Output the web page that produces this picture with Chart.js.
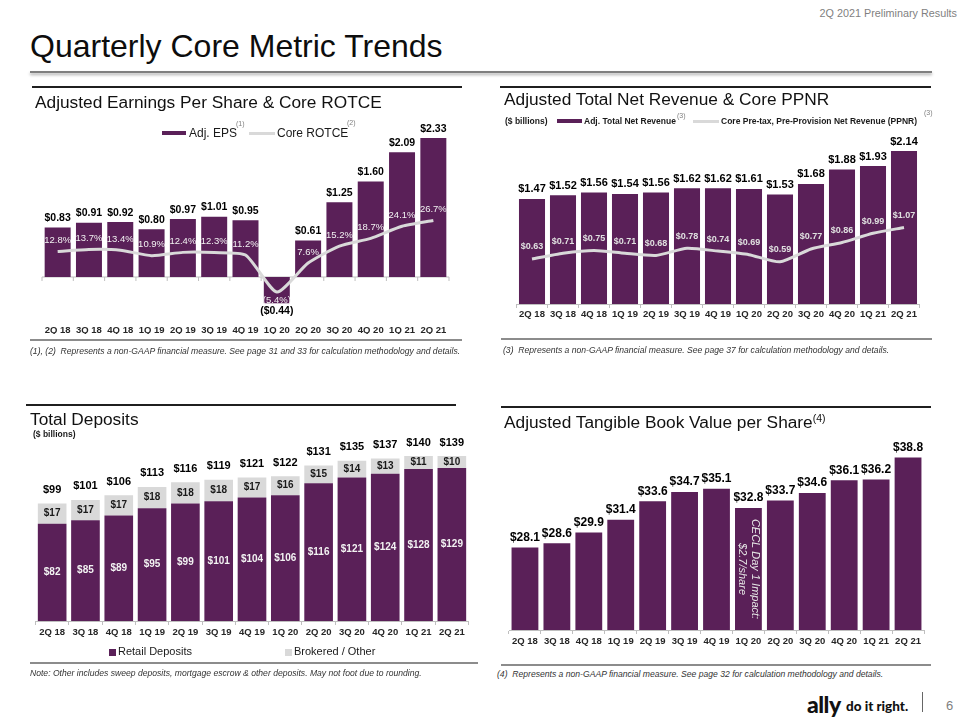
<!DOCTYPE html>
<html>
<head>
<meta charset="utf-8">
<title>Quarterly Core Metric Trends</title>
<script src="https://cdn.jsdelivr.net/npm/chart.js@4.4.1/dist/chart.umd.min.js"></script>
<style>
  body { margin: 0; background: #fff; font-family: "Liberation Sans", Arial, sans-serif; color: #111; }
  #page { position: relative; width: 960px; height: 720px; overflow: hidden; }
  .a { position: absolute; }
  .t { position: absolute; white-space: nowrap; line-height: 1; }
  .sub { font-size: 17.3px; color: #111; }
  .rule { position: absolute; height: 1.5px; background: #1f1f1f; }
  .frule { position: absolute; height: 2px; background: #8c8c8c; }
  .foot { font-size: 8.6px; font-style: italic; color: #333; }
  .sup { font-size: 7px; color: #7f7f7f; }
  .leg { font-size: 12px; color: #1a1a1a; }
  .legb { font-size: 8.5px; font-weight: bold; color: #1a1a1a; }
  .sw { position: absolute; }
</style>
</head>
<body>
<div id="page">
  <canvas id="epsChart" class="a" width="480" height="240" style="left:0;top:100px"></canvas>
  <canvas id="revChart" class="a" width="480" height="240" style="left:480px;top:100px"></canvas>
  <canvas id="depChart" class="a" width="480" height="230" style="left:0;top:420px"></canvas>
  <canvas id="tbvChart" class="a" width="480" height="240" style="left:480px;top:420px"></canvas>

  <div class="t" style="right:3px;top:8px;font-size:10.8px;color:#7f7f7f">2Q 2021 Preliminary Results</div>
  <div class="t" style="left:30px;top:30px;font-size:32px;color:#0d0d0d">Quarterly Core Metric Trends</div>
  <div class="a" style="left:30px;top:71px;width:902px;height:2px;background:#7f7f7f;box-shadow:0 2px 3px rgba(0,0,0,.35)"></div>

  <!-- top left -->
  <div class="rule" style="left:32px;top:86px;width:430px"></div>
  <div class="t sub" style="left:35px;top:93.5px">Adjusted Earnings Per Share &amp; Core ROTCE</div>
  <div class="sw" style="left:162px;top:131px;width:24px;height:4px;background:#5a2058"></div>
  <div class="t leg" style="left:189px;top:127px">Adj. EPS</div>
  <div class="t sup" style="left:236px;top:120px">(1)</div>
  <div class="sw" style="left:249px;top:131.5px;width:26px;height:3px;background:#d9d9d9"></div>
  <div class="t leg" style="left:277px;top:127px">Core ROTCE</div>
  <div class="t sup" style="left:347px;top:119px">(2)</div>
  <div class="frule" style="left:30px;top:339px;width:432px"></div>
  <div class="t foot" style="left:30px;top:346.5px">(1), (2)&nbsp; Represents a non-GAAP financial measure. See page 31 and 33 for calculation methodology and details.</div>

  <!-- top right -->
  <div class="rule" style="left:500px;top:86px;width:431px"></div>
  <div class="t sub" style="left:504px;top:90.5px">Adjusted Total Net Revenue &amp; Core PPNR</div>
  <div class="t legb" style="left:505px;top:116.5px">($ billions)</div>
  <div class="sw" style="left:557px;top:119px;width:25px;height:4px;background:#5a2058"></div>
  <div class="t legb" style="left:584px;top:116.5px">Adj. Total Net Revenue</div>
  <div class="t sup" style="left:677px;top:112px">(3)</div>
  <div class="sw" style="left:693px;top:119.5px;width:26px;height:3px;background:#d9d9d9"></div>
  <div class="t legb" style="left:721px;top:116.5px">Core Pre-tax, Pre-Provision Net Revenue (PPNR)</div>
  <div class="t sup" style="left:924px;top:109px">(3)</div>
  <div class="frule" style="left:501px;top:338px;width:431px"></div>
  <div class="t foot" style="left:503px;top:346px">(3)&nbsp; Represents a non-GAAP financial measure. See page 37 for calculation methodology and details.</div>

  <!-- bottom left -->
  <div class="rule" style="left:26px;top:404px;width:430px"></div>
  <div class="t sub" style="left:30px;top:410.5px">Total Deposits</div>
  <div class="t legb" style="left:33px;top:430px">($ billions)</div>
  <div class="sw" style="left:109px;top:648.5px;width:7px;height:7px;background:#5a2058"></div>
  <div class="t" style="left:118px;top:646px;font-size:11px;color:#1a1a1a">Retail Deposits</div>
  <div class="sw" style="left:285px;top:648.5px;width:7px;height:7px;background:#d9d9d9"></div>
  <div class="t" style="left:294px;top:646px;font-size:11px;color:#1a1a1a">Brokered / Other</div>
  <div class="frule" style="left:30px;top:662px;width:448px"></div>
  <div class="t foot" style="left:30px;top:669px">Note: Other includes sweep deposits, mortgage escrow &amp; other deposits. May not foot due to rounding.</div>

  <!-- bottom right -->
  <div class="rule" style="left:501px;top:406px;width:430px"></div>
  <div class="t sub" style="left:504px;top:412.5px">Adjusted Tangible Book Value per Share<span style="font-size:10.5px;vertical-align:6px">(4)</span></div>
  <div class="frule" style="left:501px;top:664px;width:430px"></div>
  <div class="t foot" style="left:497px;top:670px">(4)&nbsp; Represents a non-GAAP financial measure. See page 32 for calculation methodology and details.</div>

  <!-- footer -->
  <div class="t" style="left:807px;top:693px;font-family:Lato,'DejaVu Sans',sans-serif;font-weight:900;font-size:23px;letter-spacing:-0.5px;color:#111">ally</div>
  <div class="t" style="left:846px;top:700px;font-family:Lato,'DejaVu Sans',sans-serif;font-weight:900;font-size:13.5px;color:#111">do it right.</div>
  <div class="a" style="left:922px;top:692px;width:1px;height:20px;background:#666"></div>
  <div class="t" style="left:946px;top:699px;font-size:13px;color:#7f7f7f">6</div>
</div>

<script>
const quarters = ['2Q 18', '3Q 18', '4Q 18', '1Q 19', '2Q 19', '3Q 19', '4Q 19', '1Q 20', '2Q 20', '3Q 20', '4Q 20', '1Q 21', '2Q 21'];

// adjusted EPS ($) and core ROTCE (%)
const adjEps = [0.83, 0.91, 0.92, 0.80, 0.97, 1.01, 0.95, -0.44, 0.61, 1.25, 1.60, 2.09, 2.33];
const coreRotce = [12.8, 13.7, 13.4, 10.9, 12.4, 12.3, 11.2, -5.4, 7.6, 15.2, 18.7, 24.1, 26.7];

// $ billions
const adjRevenue = [1.47, 1.52, 1.56, 1.54, 1.56, 1.62, 1.62, 1.61, 1.53, 1.68, 1.88, 1.93, 2.14];
const corePpnr = [0.63, 0.71, 0.75, 0.71, 0.68, 0.78, 0.74, 0.69, 0.59, 0.77, 0.86, 0.99, 1.07];

// deposits, $ billions (totals may not foot)
const retailDeposits = [82, 85, 89, 95, 99, 101, 104, 106, 116, 121, 124, 128, 129];
const brokeredDeposits = [17, 17, 17, 18, 18, 18, 17, 16, 15, 14, 13, 11, 10];
const totalDeposits = [99, 101, 106, 113, 116, 119, 121, 122, 131, 135, 137, 140, 139];

// adjusted tangible book value per share ($)
const tangibleBook = [28.1, 28.6, 29.9, 31.4, 33.6, 34.7, 35.1, 32.8, 33.7, 34.6, 36.1, 36.2, 38.8];
const ceclNote = ['CECL Day 1 Impact:', '$2.7/share'];
const ceclIndex = 7;

const PURPLE = '#5a2058';
const LIGHT = '#d9d9d9';
const AXIS = '#bfbfbf';
const FONT = '"Liberation Sans", Arial, sans-serif';

Chart.defaults.font.family = FONT;
Chart.defaults.animation = false;
Chart.defaults.plugins.legend.display = false;
Chart.defaults.plugins.tooltip.enabled = false;

function xAxis(over) {
  return Object.assign({
    ticks: { color: '#262626', font: { size: 9.5, weight: 'bold' }, padding: 1, autoSkip: false, maxRotation: 0 },
    grid: { display: true, drawOnChartArea: false, drawTicks: true, tickLength: 4, color: AXIS },
    border: { display: true, color: AXIS },
    afterFit: s => { s.height = 22; }
  }, over || {});
}

function label(ctx, s, x, y, size, color, base, weight) {
  ctx.save();
  ctx.font = (weight || 'bold') + ' ' + size + 'px ' + FONT;
  ctx.fillStyle = color;
  ctx.textAlign = 'center';
  ctx.textBaseline = base || 'middle';
  ctx.fillText(s, x, y);
  ctx.restore();
}

function money(v, d) {
  return v < 0 ? '($' + (-v).toFixed(d) + ')' : '$' + v.toFixed(d);
}

// ---- Adjusted EPS & Core ROTCE
new Chart(document.getElementById('epsChart'), {
  type: 'bar',
  data: {
    labels: quarters,
    datasets: [
      { type: 'bar', data: adjEps, backgroundColor: PURPLE, yAxisID: 'y', order: 2, categoryPercentage: 1, barPercentage: 0.83 },
      { type: 'line', data: coreRotce, borderColor: LIGHT, borderWidth: 3, pointRadius: 0, tension: 0.2, yAxisID: 'y2', order: 1 }
    ]
  },
  options: {
    responsive: false,
    layout: { padding: { left: 42, right: 31, top: 30, bottom: 6 } },
    scales: {
      x: xAxis({
        grid: { display: false },
        border: { display: false },
        ticks: { color: '#262626', font: { size: 9.5, weight: 'bold' }, padding: 5, autoSkip: false, maxRotation: 0 }
      }),
      y: { display: false, min: -0.586, max: 2.462 },
      y2: { display: false, min: -14.35, max: 67.3 }
    }
  },
  plugins: [{
    id: 'epsMarks',
    beforeDatasetsDraw(chart) {
      const ctx = chart.ctx, area = chart.chartArea;
      const y0 = chart.scales.y.getPixelForValue(0);
      const step = area.width / quarters.length;
      ctx.save();
      ctx.strokeStyle = AXIS;
      ctx.lineWidth = 1;
      ctx.beginPath();
      ctx.moveTo(area.left, y0);
      ctx.lineTo(area.right, y0);
      for (let i = 0; i <= quarters.length; i++) {
        ctx.moveTo(area.left + i * step, y0);
        ctx.lineTo(area.left + i * step, y0 + 4);
      }
      ctx.stroke();
      ctx.restore();
    },
    afterDatasetsDraw(chart) {
      const ctx = chart.ctx;
      chart.getDatasetMeta(0).data.forEach((b, i) => {
        const v = adjEps[i];
        if (v >= 0) label(ctx, money(v, 2), b.x, b.y - 4, 10.5, '#000', 'bottom');
        else label(ctx, money(v, 2), b.x, b.y + 3, 10.5, '#000', 'top');
      });
      chart.getDatasetMeta(1).data.forEach((p, i) => {
        const v = coreRotce[i];
        const s = v < 0 ? '(' + (-v).toFixed(1) + '%)' : v.toFixed(1) + '%';
        label(ctx, s, p.x, v < 0 ? p.y + 8 : p.y - 11, 9.5, '#f2f2f2', 'middle', 'normal');
      });
    }
  }]
});

// ---- Adjusted Total Net Revenue & Core PPNR
new Chart(document.getElementById('revChart'), {
  type: 'bar',
  data: {
    labels: quarters,
    datasets: [
      { type: 'bar', data: adjRevenue, backgroundColor: PURPLE, order: 2, categoryPercentage: 1, barPercentage: 0.84 },
      { type: 'line', data: corePpnr, borderColor: LIGHT, borderWidth: 3, pointRadius: 0, tension: 0.2, order: 1 }
    ]
  },
  options: {
    responsive: false,
    layout: { padding: { left: 36.5, right: 40.5, top: 30, bottom: 14 } },
    scales: {
      x: xAxis(),
      y: { display: false, min: 0, max: 2.434 }
    }
  },
  plugins: [{
    id: 'revLabels',
    afterDatasetsDraw(chart) {
      const ctx = chart.ctx;
      chart.getDatasetMeta(0).data.forEach((b, i) => {
        label(ctx, money(adjRevenue[i], 2), b.x, b.y - 4, 11, '#000', 'bottom');
      });
      chart.getDatasetMeta(1).data.forEach((p, i) => {
        label(ctx, money(corePpnr[i], 2), p.x, p.y - 12, 9, '#e0e0e0', 'middle');
      });
    }
  }]
});

// ---- Total Deposits
new Chart(document.getElementById('depChart'), {
  type: 'bar',
  data: {
    labels: quarters,
    datasets: [
      { label: 'Retail Deposits', data: retailDeposits, backgroundColor: PURPLE, categoryPercentage: 1, barPercentage: 0.86 },
      { label: 'Brokered / Other', data: brokeredDeposits, backgroundColor: LIGHT, categoryPercentage: 1, barPercentage: 0.86 }
    ]
  },
  options: {
    responsive: false,
    layout: { padding: { left: 35.5, right: 11.5, top: 30, bottom: 7 } },
    scales: {
      x: xAxis({ stacked: true, ticks: { color: '#262626', font: { size: 9.5, weight: 'bold' }, padding: 2, autoSkip: false, maxRotation: 0 } }),
      y: { display: false, stacked: true, min: 0, max: 144.1 }
    }
  },
  plugins: [{
    id: 'depLabels',
    afterDatasetsDraw(chart) {
      const ctx = chart.ctx;
      chart.getDatasetMeta(0).data.forEach((b, i) => {
        label(ctx, '$' + retailDeposits[i], b.x, (b.y + b.base) / 2, 10, '#f2f2f2');
      });
      chart.getDatasetMeta(1).data.forEach((b, i) => {
        label(ctx, '$' + brokeredDeposits[i], b.x, (b.y + b.base) / 2, 10, '#1a1a1a');
        label(ctx, '$' + totalDeposits[i], b.x, b.y - 8, 11, '#000', 'bottom');
      });
    }
  }]
});

// ---- Adjusted Tangible Book Value per Share
new Chart(document.getElementById('tbvChart'), {
  type: 'bar',
  data: {
    labels: quarters,
    datasets: [
      { data: tangibleBook, backgroundColor: PURPLE, categoryPercentage: 1, barPercentage: 0.84 }
    ]
  },
  options: {
    responsive: false,
    layout: { padding: { left: 29, right: 36, top: 30, bottom: 8 } },
    scales: {
      x: xAxis({ ticks: { color: '#262626', font: { size: 9.5, weight: 'bold' }, padding: 2, autoSkip: false, maxRotation: 0 } }),
      y: { display: false, min: 18.3, max: 39.7 }
    }
  },
  plugins: [{
    id: 'tbvLabels',
    afterDatasetsDraw(chart) {
      const ctx = chart.ctx;
      const bars = chart.getDatasetMeta(0).data;
      bars.forEach((b, i) => {
        label(ctx, money(tangibleBook[i], 1), b.x, b.y - 4, 12, '#000', 'bottom');
      });
      // rotated note inside the 1Q 20 bar (bar is clipped at the chart bottom)
      const c = bars[ceclIndex];
      ctx.save();
      ctx.translate(c.x, (c.y + chart.chartArea.bottom) / 2);
      ctx.rotate(Math.PI / 2);
      ctx.font = 'italic 11px ' + FONT;
      ctx.fillStyle = '#e6e6e6';
      ctx.textAlign = 'center';
      ctx.textBaseline = 'middle';
      ctx.fillText(ceclNote[0], 0, -6.5);
      ctx.fillText(ceclNote[1], 0, 6.5);
      ctx.restore();
    }
  }]
});
</script>
</body>
</html>
